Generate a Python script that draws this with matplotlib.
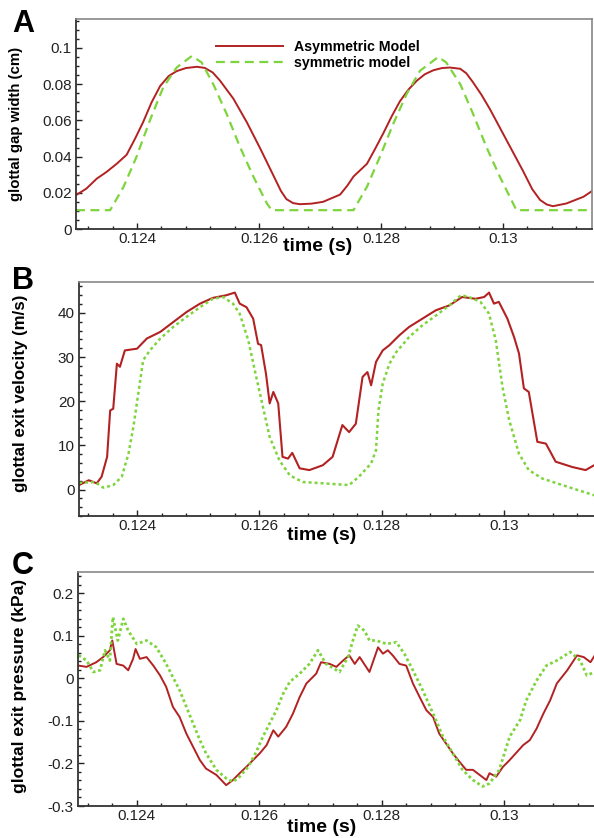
import matplotlib
matplotlib.use("Agg")
import matplotlib.pyplot as plt
from matplotlib.ticker import MultipleLocator, FixedLocator, FuncFormatter

plt.rcParams['font.family'] = ['Liberation Sans', 'DejaVu Sans']

# ---------------- data ----------------
# Panel A: glottal gap width (cm)
a_red_t = [0.12300, 0.12317, 0.12334, 0.12350, 0.12367, 0.12383, 0.12397, 0.12410, 0.12424,
           0.12438, 0.12452, 0.12465, 0.12480, 0.12498, 0.12511, 0.12524, 0.12536, 0.12558,
           0.12580, 0.12602, 0.12623, 0.12636, 0.12645, 0.12656, 0.12667, 0.12686,
           0.12705, 0.12733, 0.12745, 0.12755, 0.12777, 0.12790, 0.12804, 0.12818, 0.12831,
           0.12845, 0.12859, 0.12872, 0.12886, 0.12900, 0.12913, 0.12930, 0.12940, 0.12951,
           0.12965, 0.12979, 0.13006, 0.13033, 0.13048, 0.13061, 0.13072, 0.13082, 0.13104,
           0.13132, 0.13148]
a_red_v = [0.0187, 0.0223, 0.0278, 0.0315, 0.0361, 0.0410, 0.0500, 0.0590, 0.0700,
           0.0790, 0.0845, 0.0872, 0.0889, 0.0896, 0.0890, 0.0865, 0.0820, 0.0720,
           0.0590, 0.0445, 0.0300, 0.0210, 0.0165, 0.0143, 0.0137, 0.0140,
           0.0150, 0.0190, 0.0240, 0.0290, 0.0360, 0.0440, 0.0530, 0.0625, 0.0705,
           0.0770, 0.0820, 0.0855, 0.0877, 0.0889, 0.0892, 0.0885, 0.0860, 0.0810,
           0.0740, 0.0660, 0.0490, 0.0320, 0.0220, 0.0160, 0.0135, 0.0126, 0.0141,
           0.0178, 0.0214]
a_grn_t = [0.12300, 0.12356, 0.12378, 0.12399, 0.12421, 0.12443, 0.12465, 0.12490, 0.12506,
           0.12525, 0.12547, 0.12569, 0.12591, 0.12613, 0.12621, 0.12755, 0.12777, 0.12798,
           0.12820, 0.12842, 0.12864, 0.12894, 0.12907, 0.12930, 0.12951, 0.12973, 0.12995,
           0.13014, 0.13022, 0.13149]
a_grn_v = [0.0104, 0.0104, 0.0233, 0.0397, 0.0599, 0.0782, 0.0892, 0.0956, 0.0920,
           0.0800, 0.0636, 0.0452, 0.0288, 0.0141, 0.0104, 0.0104, 0.0233, 0.0397,
           0.0580, 0.0745, 0.0874, 0.0950, 0.0920, 0.0800, 0.0636, 0.0452, 0.0288,
           0.0159, 0.0104, 0.0104]

# Panel B: glottal exit velocity (m/s)
b_red_t = [0.12305, 0.12321, 0.12334, 0.12342, 0.12351, 0.12356, 0.12361, 0.12367, 0.12372,
           0.12380, 0.12400, 0.12416, 0.12438, 0.12459, 0.12481, 0.12503, 0.12524, 0.12546,
           0.12560, 0.12568, 0.12579, 0.12590, 0.12598, 0.12603, 0.12611, 0.12617, 0.12623,
           0.12631, 0.12638, 0.12647, 0.12654, 0.12666, 0.12682, 0.12704, 0.12720, 0.12736,
           0.12747, 0.12758, 0.12769, 0.12777, 0.12783, 0.12791, 0.12802, 0.12813, 0.12829,
           0.12845, 0.12867, 0.12889, 0.12911, 0.12932, 0.12954, 0.12968, 0.12976, 0.12984,
           0.12992, 0.13006, 0.13017, 0.13025, 0.13033, 0.13041, 0.13055, 0.13069, 0.13085,
           0.13112, 0.13134, 0.13148]
b_red_v = [1.0, 2.1, 1.4, 2.9, 7.4, 17.9, 18.3, 28.5, 27.8,
           31.5, 31.9, 34.2, 35.7, 37.9, 40.2, 42.1, 43.4, 44.0,
           44.6, 42.1, 41.3, 38.7, 33.0, 32.7, 26.2, 19.5, 22.1,
           19.5, 7.4, 7.0, 8.3, 4.8, 4.4, 5.5, 7.4, 14.6,
           13.0, 14.9, 25.5, 26.6, 23.6, 28.9, 31.5, 32.7, 34.9,
           36.8, 38.7, 40.6, 41.7, 43.6, 43.2, 43.6, 44.6, 42.1,
           42.5, 38.7, 34.5, 30.8, 22.9, 22.1, 10.8, 10.4, 6.3,
           5.1, 4.4, 5.5]
b_grn_t = [0.12305, 0.12331, 0.12345, 0.12361, 0.12375, 0.12386, 0.12394, 0.12402, 0.12410,
           0.12421, 0.12438, 0.12459, 0.12481, 0.12503, 0.12524, 0.12541, 0.12557, 0.12568,
           0.12582, 0.12595, 0.12606, 0.12617, 0.12633, 0.12650, 0.12671, 0.12704, 0.12747,
           0.12763, 0.12783, 0.12791, 0.12795, 0.12802, 0.12813, 0.12824, 0.12845, 0.12867,
           0.12889, 0.12911, 0.12930, 0.12943, 0.12962, 0.12976, 0.12987, 0.12998, 0.13009,
           0.13025, 0.13041, 0.13063, 0.13096, 0.13123, 0.13148]
b_grn_v = [1.5, 1.7, 0.4, 1.0, 2.9, 8.1, 14.2, 21.7, 29.3,
           31.5, 34.2, 36.8, 39.1, 41.3, 43.2, 43.6, 42.1, 39.8,
           33.8, 25.5, 18.7, 11.9, 6.6, 3.2, 1.7, 1.4, 1.0,
           2.9, 5.9, 8.9, 17.9, 24.0, 28.5, 31.1, 34.5, 37.2,
           39.4, 41.7, 44.0, 43.6, 42.5, 39.8, 33.8, 23.2, 15.7,
           8.1, 4.4, 2.5, 1.0, -0.2, -1.3]

# Panel C: glottal exit pressure (kPa)
c_red_t = [0.12305, 0.12318, 0.12334, 0.12345, 0.12356, 0.12360, 0.12367, 0.12378, 0.12386,
           0.12394, 0.12398, 0.12405, 0.12416, 0.12427, 0.12438, 0.12448, 0.12459, 0.12470,
           0.12481, 0.12492, 0.12503, 0.12513, 0.12530, 0.12546, 0.12557, 0.12568, 0.12579,
           0.12590, 0.12601, 0.12612, 0.12623, 0.12631, 0.12644, 0.12655, 0.12666, 0.12677,
           0.12693, 0.12701, 0.12715, 0.12726, 0.12737, 0.12747, 0.12756, 0.12764, 0.12780,
           0.12794, 0.12802, 0.12810, 0.12818, 0.12829, 0.12840, 0.12851, 0.12862, 0.12873,
           0.12884, 0.12894, 0.12905, 0.12916, 0.12927, 0.12938, 0.12949, 0.12960, 0.12971,
           0.12976, 0.12987, 0.12998, 0.13009, 0.13026, 0.13031, 0.13042, 0.13053, 0.13064,
           0.13075, 0.13086, 0.13103, 0.13119, 0.13130, 0.13141, 0.13148]
c_red_v = [0.030, 0.027, 0.038, 0.050, 0.066, 0.089, 0.034, 0.030, 0.019,
           0.046, 0.069, 0.046, 0.050, 0.030, 0.007, -0.020, -0.067, -0.091,
           -0.130, -0.161, -0.192, -0.212, -0.227, -0.251, -0.239, -0.223, -0.208,
           -0.192, -0.176, -0.157, -0.122, -0.137, -0.114, -0.083, -0.044, -0.012,
           0.011, 0.038, 0.034, 0.027, 0.042, 0.054, 0.034, 0.050, 0.015,
           0.073, 0.058, 0.066, 0.054, 0.034, 0.030, -0.012, -0.044, -0.075,
           -0.091, -0.130, -0.153, -0.176, -0.196, -0.215, -0.215, -0.227, -0.239,
           -0.223, -0.231, -0.208, -0.192, -0.165, -0.157, -0.145, -0.118, -0.083,
           -0.052, -0.012, 0.019, 0.054, 0.050, 0.038, 0.054]
c_grn_t = [0.12305, 0.12318, 0.12329, 0.12340, 0.12348, 0.12356, 0.12361, 0.12369, 0.12378,
           0.12386, 0.12400, 0.12416, 0.12432, 0.12448, 0.12459, 0.12470, 0.12481, 0.12492,
           0.12503, 0.12513, 0.12530, 0.12546, 0.12557, 0.12568, 0.12582, 0.12595, 0.12606,
           0.12617, 0.12628, 0.12639, 0.12650, 0.12666, 0.12682, 0.12696, 0.12709, 0.12731,
           0.12745, 0.12753, 0.12761, 0.12772, 0.12780, 0.12791, 0.12808, 0.12824, 0.12837,
           0.12851, 0.12867, 0.12884, 0.12900, 0.12916, 0.12932, 0.12949, 0.12965, 0.12976,
           0.12992, 0.13009, 0.13026, 0.13036, 0.13053, 0.13069, 0.13086, 0.13108, 0.13124,
           0.13135, 0.13148]
c_grn_v = [0.054, 0.042, 0.015, 0.019, 0.066, 0.042, 0.144, 0.089, 0.140,
           0.112, 0.081, 0.089, 0.073, 0.034, 0.003, -0.028, -0.067, -0.106,
           -0.145, -0.176, -0.215, -0.235, -0.243, -0.231, -0.208, -0.173, -0.137,
           -0.106, -0.075, -0.036, -0.008, 0.011, 0.034, 0.066, 0.034, 0.015,
           0.050, 0.089, 0.124, 0.112, 0.089, 0.089, 0.081, 0.085, 0.058,
           0.019, -0.028, -0.083, -0.137, -0.176, -0.215, -0.239, -0.254, -0.247,
           -0.215, -0.137, -0.098, -0.052, -0.005, 0.030, 0.042, 0.062, 0.042,
           0.007, 0.015]

x_ticks = [0.124, 0.126, 0.128, 0.130]
x_tick_labels = ["0.124", "0.126", "0.128", "0.13"]
legend_labels = ["Asymmetric Model", "symmetric model"]

RED = "#b22222"
GREEN = "#7ed43c"

W, H = 594, 838
fig = plt.figure(figsize=(W / 100, H / 100), dpi=100)

def box(l, t, r, b):
    return [l / W, 1 - b / H, (r - l) / W, (b - t) / H]

axA = fig.add_axes(box(76, 19, 592, 229))
axB = fig.add_axes(box(79, 282, 596, 516))
axC = fig.add_axes(box(78, 572, 596, 806))

def style(ax, ymajor, yminor, fmt):
    ax.xaxis.set_major_locator(FixedLocator(x_ticks))
    ax.set_xticklabels(x_tick_labels)
    ax.xaxis.set_minor_locator(MultipleLocator(0.0004))
    ax.yaxis.set_major_locator(MultipleLocator(ymajor))
    ax.yaxis.set_minor_locator(MultipleLocator(yminor))
    ax.yaxis.set_major_formatter(FuncFormatter(fmt))
    ax.tick_params(which='both', direction='in', top=False, right=False, labelsize=11,
                   colors='#222222')
    ax.tick_params(which='major', length=4, width=1.0, pad=3)
    ax.tick_params(which='minor', length=2, width=1.0)
    ax.tick_params(axis='x', pad=2)
    for s in ['left', 'bottom']:
        ax.spines[s].set_color('#333333')
        ax.spines[s].set_linewidth(1.3)
    for s in ['top', 'right']:
        ax.spines[s].set_color('#888888')
        ax.spines[s].set_linewidth(1.2)

def fmtA(v, p):
    if abs(v) < 1e-9:
        return "0"
    return f"{v:.2f}".rstrip('0').rstrip('.')

def fmtB(v, p):
    return f"{v:.0f}"

def fmtC(v, p):
    if abs(v) < 1e-9:
        return "0"
    return f"{v:.1f}"

XLAB = 14

# Panel A
axA.plot(a_red_t, a_red_v, color=RED, lw=1.4, label=legend_labels[0])
axA.plot(a_grn_t, a_grn_v, color=GREEN, lw=1.6, dashes=(4, 2.5), label=legend_labels[1])
axA.set_xlim(0.1230, 0.13146)
axA.set_ylim(0, 0.116)
style(axA, 0.02, 0.005, fmtA)
axA.set_ylabel("glottal gap width (cm)", fontsize=10.8, fontweight='bold')
axA.yaxis.set_label_coords(-0.103, 0.50)
axA.set_xlabel("time (s)", fontsize=XLAB, fontweight='bold', va='top')
axA.xaxis.set_label_coords(0.469, -0.042)
leg = axA.legend(loc='upper left', bbox_to_anchor=(0.272, 0.90), frameon=False,
                 prop={'weight': 'bold', 'size': 10.2}, handlelength=4.7,
                 handletextpad=0.75, labelspacing=0.12, borderaxespad=0,
                 borderpad=0)

# Panel B
axB.plot(b_red_t, b_red_v, color=RED, lw=1.5)
axB.plot(b_grn_t, b_grn_v, color=GREEN, lw=1.8, dashes=(1.2, 1.2))
axB.set_xlim(0.12305, 0.13151)
axB.set_ylim(-6, 47)
style(axB, 10, 2, fmtB)
axB.spines['right'].set_visible(False)
axB.set_ylabel("glottal exit velocity (m/s)", fontsize=12.2, fontweight='bold')
axB.yaxis.set_label_coords(-0.099, 0.526)
axB.set_xlabel("time (s)", fontsize=XLAB, fontweight='bold', va='top')
axB.xaxis.set_label_coords(0.47, -0.048)

# Panel C
axC.plot(c_red_t, c_red_v, color=RED, lw=1.4)
axC.plot(c_grn_t, c_grn_v, color=GREEN, lw=2.0, dashes=(1.0, 1.0))
axC.set_xlim(0.12304, 0.13150)
axC.set_ylim(-0.3, 0.25)
style(axC, 0.1, 0.02, fmtC)
axC.spines['right'].set_visible(False)
axC.set_ylabel("glottal exit pressure (kPa)", fontsize=12.6, fontweight='bold')
axC.yaxis.set_label_coords(-0.099, 0.513)
axC.set_xlabel("time (s)", fontsize=XLAB, fontweight='bold', va='top')
axC.xaxis.set_label_coords(0.471, -0.055)

# Panel letters
fig.text(12 / W, 1 - 9 / H, "A", fontsize=22, fontweight='bold', va='top', ha='left')
fig.text(12 / W, 1 - 266 / H, "B", fontsize=22, fontweight='bold', va='top', ha='left')
fig.text(12 / W, 1 - 551 / H, "C", fontsize=22, fontweight='bold', va='top', ha='left')

fig.savefig("out.png", dpi=100)
